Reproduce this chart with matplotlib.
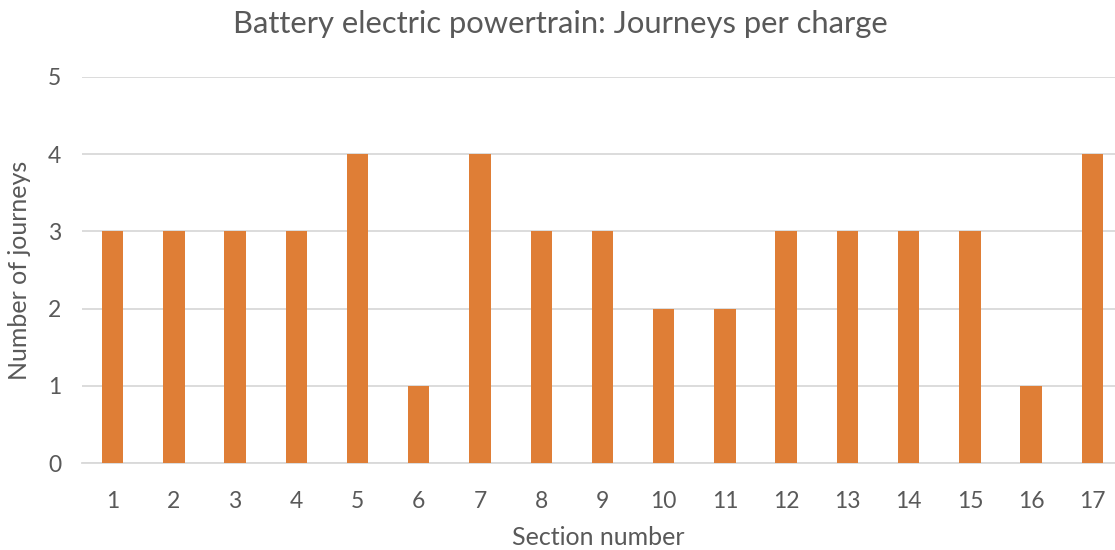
import matplotlib
matplotlib.use("Agg")
import matplotlib.pyplot as plt

sections = [str(i) for i in range(1, 18)]
journeys = [3, 3, 3, 3, 4, 1, 4, 3, 3, 2, 2, 3, 3, 3, 3, 1, 4]
y_ticks = [0, 1, 2, 3, 4, 5]

plt.rcParams['font.family'] = ['Lato', 'DejaVu Sans']
text_color = '#595959'
bar_color = '#DF7E36'
grid_color = '#D9D9D9'

fig = plt.figure(figsize=(11.15, 5.5), dpi=100)
ax = fig.add_axes([0.0735, 0.158, 0.9265, 0.702])

positions = list(range(1, len(sections) + 1))
ax.bar(positions, journeys, width=0.35, color=bar_color, zorder=3)

ax.set_xlim(0.5, 17.37)
ax.set_ylim(0, 5)
ax.set_yticks(y_ticks)
ax.set_xticks(positions)
ax.set_xticklabels(sections)

ax.grid(axis='y', color=grid_color, linewidth=1.3, zorder=0)
for s in ['top', 'right', 'left']:
    ax.spines[s].set_visible(False)
ax.spines['bottom'].set_color(grid_color)
ax.spines['bottom'].set_linewidth(1.3)
ax.tick_params(axis='both', length=0, labelsize=16.5, labelcolor=text_color)
ax.tick_params(axis='x', pad=20)
ax.tick_params(axis='y', pad=15)

ax.set_xlabel('Section number', fontsize=18, color=text_color, labelpad=10)
ax.set_ylabel('Number of journeys', fontsize=18, color=text_color, labelpad=12)
fig.text(0.503, 0.957, 'Battery electric powertrain: Journeys per charge',
         ha='center', va='center', fontsize=22.3, color=text_color)

fig.savefig('out.png', dpi=100)
